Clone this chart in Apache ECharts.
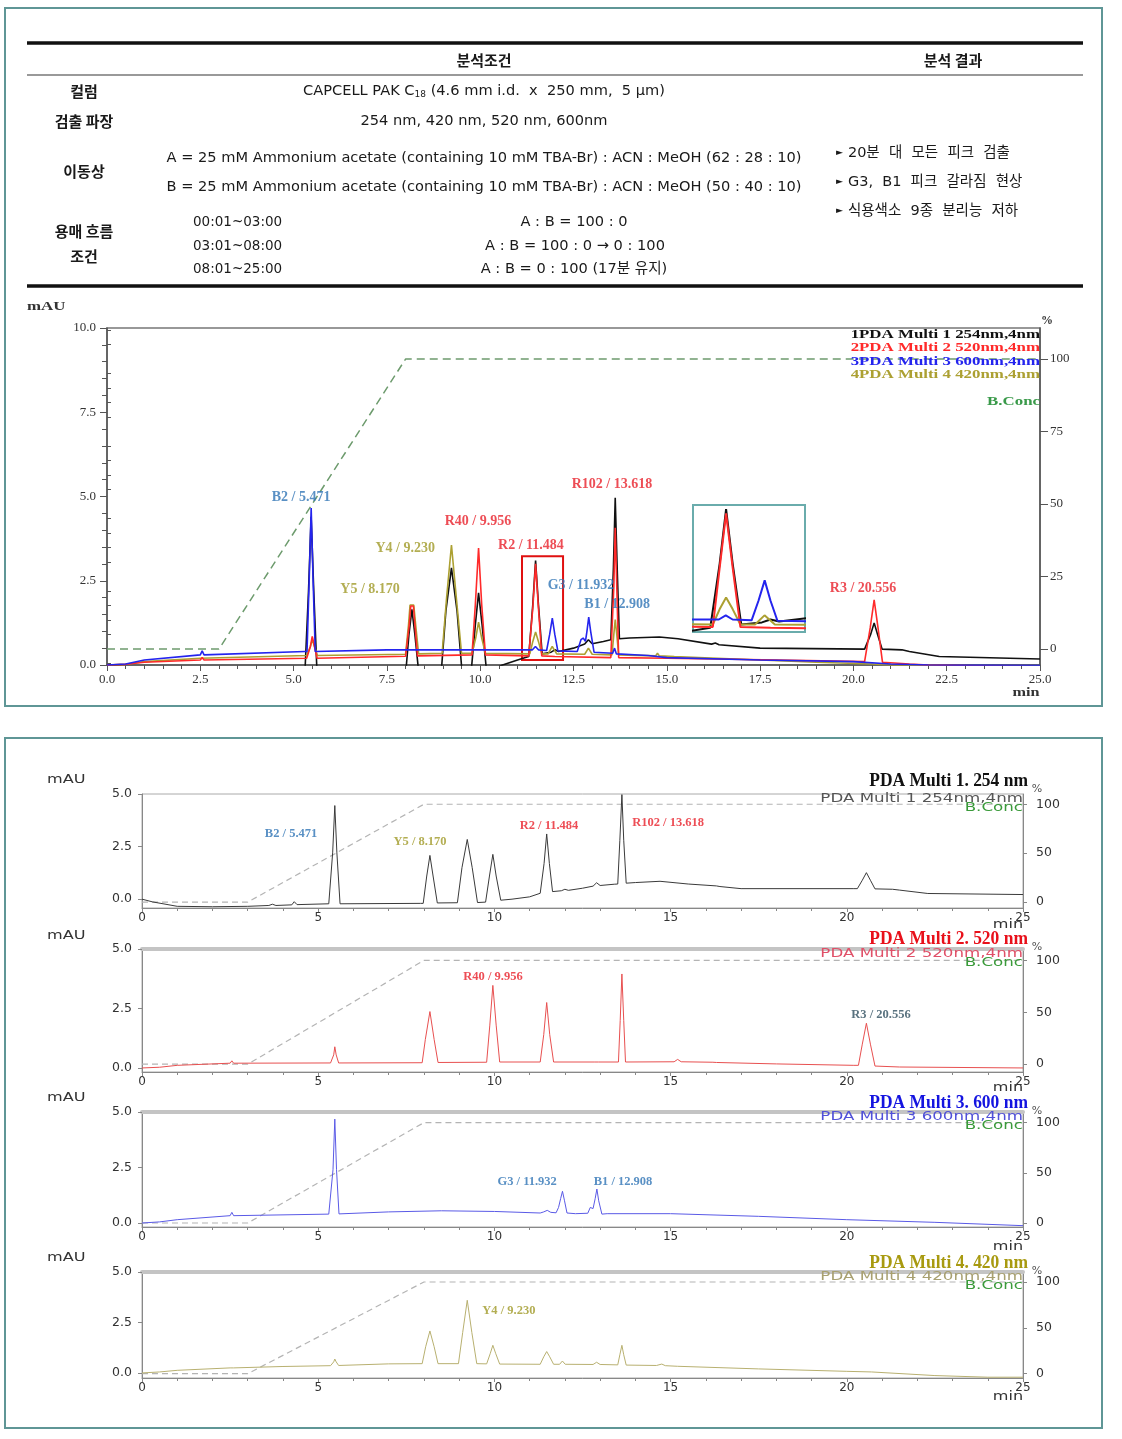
<!DOCTYPE html>
<html><head><meta charset="utf-8">
<script src="https://cdn.jsdelivr.net/npm/echarts@6/dist/echarts.min.js"></script>
<style>html,body{margin:0;padding:0;background:#fff}#c{width:1122px;height:1439px}</style>
</head><body><div id="c"></div>
<script>
// ---------------- DATA ----------------
// Main overlay chromatogram (time in min, absorbance in mAU)
const main254 = [[0,0],[0.4,-0.05],[1.0,-0.25],[2.0,-0.3],[5.3,-0.3],
 [5.33,-0.3],[5.40,2.2],[5.47,4.4],[5.54,2.2],[5.63,-0.3],[7.9,-0.3],
 [8.0,-0.3],[8.09,0.9],[8.17,1.65],[8.25,0.9],[8.36,-0.3],
 [8.95,-0.3],[9.08,1.6],[9.23,2.88],[9.38,1.6],[9.52,-0.3],
 [9.75,-0.3],[9.87,1.2],[9.956,2.14],[10.05,1.2],[10.18,-0.3],
 [10.3,-0.15],[10.6,0.0],[11.0,0.15],[11.3,0.25],
 [11.32,0.27],[11.41,1.8],[11.484,3.1],[11.56,1.8],[11.66,0.33],
 [11.9,0.38],[12.0,0.45],[12.1,0.4],[12.5,0.5],[12.8,0.62],[12.9,0.75],[13.0,0.63],[13.3,0.7],[13.5,0.75],
 [13.53,0.75],[13.57,2.9],[13.618,4.96],[13.67,2.9],[13.73,0.78],
 [14.0,0.8],[14.8,0.83],[15.3,0.78],[16.2,0.62],[16.3,0.65],[16.4,0.6],[17.5,0.5],[20.3,0.47],
 [20.35,0.47],[20.46,0.9],[20.556,1.25],[20.65,0.9],[20.77,0.47],
 [21.3,0.45],[21.5,0.4],[22.3,0.25],[25,0.18]];
const main520 = [[0,0],[0.5,0.02],[1.0,0.08],[2.5,0.15],[2.55,0.22],[2.6,0.15],[5.35,0.2],
 [5.38,0.2],[5.45,0.55],[5.5,0.85],[5.56,0.55],[5.63,0.2],[8.0,0.26],
 [8.03,0.26],[8.1,1.2],[8.14,1.75],[8.21,1.75],[8.25,1.2],[8.32,0.27],
 [9.78,0.3],[9.87,1.8],[9.956,3.47],[10.04,1.8],[10.14,0.3],[11.3,0.27],
 [11.33,0.27],[11.41,1.7],[11.484,3.0],[11.56,1.7],[11.65,0.27],
 [12.0,0.25],[13.5,0.22],
 [13.53,0.22],[13.58,2.3],[13.618,4.07],[13.66,2.3],[13.71,0.22],
 [15,0.2],[18,0.15],[20.3,0.1],
 [20.33,0.1],[20.45,1.1],[20.556,1.93],[20.66,1.1],[20.78,0.08],
 [21.5,0.03],[22,0.0],[25,-0.05]];
const main600 = [[0,0],[0.5,0.03],[1.0,0.15],[2.5,0.3],[2.55,0.42],[2.6,0.3],[5.3,0.4],
 [5.36,0.4],[5.42,2.6],[5.471,4.66],[5.52,2.6],[5.58,0.4],
 [7.5,0.45],[11.3,0.45],[11.4,0.45],[11.48,0.55],[11.56,0.45],
 [11.78,0.43],[11.86,0.9],[11.932,1.39],[12.0,0.9],[12.08,0.42],
 [12.6,0.4],[12.7,0.75],[12.76,0.8],[12.82,0.7],[12.86,1.0],[12.908,1.42],[12.96,1.0],[13.05,0.38],
 [13.55,0.35],[13.6,0.5],[13.65,0.33],[14.5,0.28],[15,0.22],[17.5,0.15],[20,0.1],[21,0.03],[22,0.0],[25,-0.02]];
const main420 = [[0,0],[0.5,0.02],[1.0,0.1],[2.5,0.2],[5.35,0.28],
 [5.38,0.28],[5.45,0.55],[5.5,0.75],[5.56,0.55],[5.64,0.28],
 [8.0,0.32],[8.08,1.2],[8.12,1.78],[8.22,1.78],[8.27,1.2],[8.35,0.33],
 [8.98,0.35],[9.1,2.0],[9.23,3.56],[9.36,2.0],[9.5,0.35],
 [9.78,0.35],[9.88,0.8],[9.956,1.27],[10.04,0.8],[10.14,0.35],
 [11.33,0.33],[11.41,0.7],[11.484,0.98],[11.56,0.7],[11.65,0.33],
 [11.82,0.33],[11.93,0.55],[12.05,0.33],
 [12.8,0.32],[12.9,0.5],[13.0,0.32],
 [13.53,0.3],[13.58,0.9],[13.618,1.35],[13.66,0.9],[13.71,0.3],
 [14.7,0.27],[14.75,0.35],[14.8,0.27],[15.2,0.25],[17.5,0.15],[19,0.08],[20.5,0.03],[21,0.0],[25,-0.05]];
// Gradient (% B)
const bConc = [[0,0],[3,0],[8,100],[25,100]];

// Individual channels (lower panel)
const sub254 = [[0,0],[0.3,-0.13],[1.0,-0.34],[2.0,-0.36],[3.0,-0.34],[3.6,-0.3],[3.7,-0.24],[3.8,-0.3],[4.25,-0.27],[4.32,-0.12],[4.4,-0.26],[5.3,-0.22],
 [5.33,-0.22],[5.41,2.2],[5.471,4.45],[5.53,2.2],[5.62,-0.22],[7.9,-0.2],
 [7.98,-0.2],[8.08,1.1],[8.17,2.08],[8.26,1.1],[8.38,-0.18],
 [8.95,-0.17],[9.08,1.5],[9.23,2.84],[9.37,1.5],[9.52,-0.16],
 [9.75,-0.14],[9.86,1.1],[9.956,2.13],[10.05,1.1],[10.18,-0.05],
 [10.5,0.0],[11.0,0.11],[11.3,0.28],
 [11.33,0.3],[11.41,1.7],[11.484,3.1],[11.56,1.7],[11.65,0.36],
 [11.9,0.4],[12.0,0.47],[12.1,0.42],[12.5,0.52],[12.8,0.62],[12.9,0.78],[13.0,0.65],[13.4,0.71],
 [13.5,0.72],[13.56,2.8],[13.618,4.97],[13.67,2.8],[13.74,0.76],
 [14.0,0.79],[14.7,0.85],[15.5,0.72],[16.3,0.63],[16.4,0.6],[17.0,0.5],[20.2,0.5],
 [20.3,0.5],[20.44,0.9],[20.556,1.26],[20.67,0.9],[20.8,0.49],
 [21.3,0.47],[21.5,0.43],[22.3,0.27],[25,0.22]];
const sub520 = [[0,0],[0.5,0.03],[1.0,0.11],[2.5,0.2],[2.55,0.3],[2.6,0.2],[5.35,0.21],
 [5.38,0.21],[5.44,0.55],[5.471,0.89],[5.51,0.55],[5.58,0.21],
 [7.95,0.22],[8.04,1.2],[8.17,2.37],[8.29,1.2],[8.4,0.23],
 [9.78,0.24],[9.87,1.8],[9.956,3.47],[10.05,1.8],[10.15,0.25],
 [11.3,0.25],[11.4,1.4],[11.484,2.75],[11.57,1.4],[11.68,0.25],
 [12.85,0.25],[12.9,0.29],[12.95,0.25],
 [13.52,0.25],[13.57,2.0],[13.618,3.95],[13.67,2.0],[13.72,0.25],
 [15.1,0.26],[15.2,0.36],[15.3,0.26],[16.2,0.24],[16.25,0.27],[16.3,0.23],[18,0.17],[20.2,0.11],
 [20.33,0.11],[20.44,1.0],[20.556,1.88],[20.67,1.0],[20.8,0.08],
 [21.5,0.04],[25,0.0]];
const sub600 = [[0,0],[0.5,0.05],[1.0,0.15],[2.5,0.33],[2.55,0.48],[2.6,0.33],[5.3,0.4],
 [5.35,0.4],[5.42,2.4],[5.471,4.68],[5.52,2.4],[5.59,0.41],
 [7.0,0.5],[8.5,0.55],[10.0,0.52],[11.3,0.45],[11.4,0.5],[11.5,0.57],[11.6,0.48],
 [11.75,0.46],[11.82,0.7],[11.88,1.1],[11.932,1.43],[11.99,1.0],[12.06,0.45],
 [12.3,0.42],[12.65,0.44],[12.72,0.7],[12.76,0.78],[12.8,0.65],[12.86,1.1],[12.908,1.53],[12.96,1.0],[13.05,0.4],[13.2,0.42],
 [15,0.42],[17.5,0.3],[20,0.15],[22.5,0.03],[25,-0.12]];
const sub420 = [[0,0],[0.5,0.05],[1.0,0.13],[2.5,0.25],[2.55,0.33],[2.6,0.25],[4.0,0.32],[5.35,0.36],
 [5.38,0.36],[5.44,0.55],[5.471,0.69],[5.51,0.55],[5.58,0.37],
 [7.0,0.45],[7.95,0.46],[8.05,1.3],[8.17,2.08],[8.29,1.3],[8.4,0.46],
 [8.98,0.46],[9.1,2.0],[9.23,3.6],[9.36,2.0],[9.5,0.46],
 [9.78,0.45],[9.88,0.95],[9.956,1.37],[10.04,0.95],[10.15,0.44],
 [11.3,0.43],[11.4,0.8],[11.484,1.06],[11.57,0.8],[11.68,0.43],
 [11.85,0.43],[11.93,0.59],[12.01,0.43],
 [12.8,0.42],[12.9,0.53],[13.0,0.42],
 [13.5,0.4],[13.56,0.9],[13.618,1.37],[13.67,0.9],[13.74,0.39],
 [14.6,0.37],[14.75,0.44],[14.85,0.36],[15.2,0.33],[17.5,0.2],[20.0,0.08],[20.7,0.05],[22.5,-0.13],[24.0,-0.21],[25,-0.21]];

// Tick labels
const mainYTicks = [0, 2.5, 5, 7.5, 10];
const mainPctTicks = [0, 25, 50, 75, 100];
const mainPctMinor = [-5,5,10,15,20,30,35,40,45,55,60,65,70,80,85,90,95,105,110];
const subYTicks = [0, 2.5, 5];
const subPctTicks = [0, 50, 100];

// Channel names
const channelNames = ['1PDA Multi 1 254nm,4nm','2PDA Multi 2 520nm,4nm','3PDA Multi 3 600nm,4nm','4PDA Multi 4 420nm,4nm'];
const subTitles = ['PDA Multi 1. 254 nm','PDA Multi 2. 520 nm','PDA Multi 3. 600 nm','PDA Multi 4. 420 nm'];
const subLegend = ['PDA Multi 1 254nm,4nm','PDA Multi 2 520nm,4nm','PDA Multi 3 600nm,4nm','PDA Multi 4 420nm,4nm'];

// Peak annotations (text, anchor time, anchor mAU)
const mainPeakText = ['B2 / 5.471','Y5 / 8.170','Y4 / 9.230','R40 / 9.956','R2 / 11.484','G3 / 11.932','B1 / 12.908','R102 / 13.618','R3 / 20.556'];
const mainPeakAt = [[5.20,4.96],[7.05,2.23],[7.99,3.47],[9.94,4.27],[11.36,3.56],[12.70,2.37],[13.67,1.81],[13.53,5.37],[20.26,2.28]];
const subPeakText = [['B2 / 5.471','Y5 / 8.170','R2 / 11.484','R102 / 13.618'],['R40 / 9.956','R3 / 20.556'],['G3 / 11.932','B1 / 12.908'],['Y4 / 9.230']];
const subPeakAt = [[[4.23,3.13],[7.89,2.75],[11.55,3.51],[14.93,3.65]],[[9.96,3.83],[20.97,2.22]],[[10.93,1.86],[13.65,1.86]],[[10.41,3.08]]];

// Table text
const tableHead = ['분석조건','분석 결과'];
const rowLabels = ['컬럼','검출 파장','이동상','용매 흐름','조건'];
const columnText = 'CAPCELL PAK C{s|18} (4.6 mm i.d.  x  250 mm,  5 μm)';
const waveText = '254 nm, 420 nm, 520 nm, 600nm';
const phaseA = 'A = 25 mM Ammonium acetate (containing 10 mM TBA-Br) : ACN : MeOH (62 : 28 : 10)';
const phaseB = 'B = 25 mM Ammonium acetate (containing 10 mM TBA-Br) : ACN : MeOH (50 : 40 : 10)';
const flowTimes = ['00:01~03:00','03:01~08:00','08:01~25:00'];
const flowRatios = ['A : B = 100 : 0','A : B = 100 : 0 → 0 : 100','A : B = 0 : 100 (17분 유지)'];
const results = ['20분  대  모든  피크  검출','G3,  B1  피크  갈라짐  현상','식용색소  9종  분리능  저하'];

// ---------------- STYLE ----------------
const LB='#2f74b5', LR='#e8202a', LO='#a09a28';
const mainPeakColor = [LB,LO,LO,LR,LR,LB,LB,LR,LR];
const subPeakColor = [[LB,LO,LR,LR],[LR,'#2f4f5f'],[LB,LB],[LO]];
const mainColors = ['#111111','#ff2a2a','#2424ee','#aca032'];
const subColors = ['#3a3a3a','#e85050','#5a5ae6','#b8b070'];
const subTitleColors = ['#111','#e8101a','#1414e0','#a89a10'];
const subLegColors = ['#555','#e05068','#5050d8','#a8a070'];

const SERIF = '"Liberation Serif","Times New Roman",serif';
const SANS = '"DejaVu Sans",sans-serif';
const KR = '"Noto Sans CJK KR","Noto Sans",sans-serif';
const MIX = '"DejaVu Sans","Noto Sans CJK KR",sans-serif';

const chart = echarts.init(document.getElementById('c'), null, {width:1122, height:1439});

const subGeom = [
 {top:794, h:114, ymin:-0.42, pmin:-6, pmax:110.5, thick:false},
 {top:949, h:123, ymin:-0.17, pmin:-7.5, pmax:111, thick:true},
 {top:1112, h:115, ymin:-0.18, pmin:-4, pmax:110.6, thick:true},
 {top:1272, h:106, ymin:-0.25, pmin:-4.7, pmax:110.9, thick:true}
];
const subData = [sub254, sub520, sub600, sub420];

const grid = [
 {left:107, top:328, width:933, height:337, show:true, borderColor:'#777', borderWidth:1.5},
 {left:693, top:505, width:112, height:127, show:true, borderColor:'#6aacac', borderWidth:2, backgroundColor:'#fff'}
];
subGeom.forEach(g=>grid.push({left:142, top:g.top, width:881, height:g.h, show:true, borderColor:'#aaa', borderWidth:1}));

const xAxis = [
 {gridIndex:0, type:'value', min:0, max:25, interval:2.5, splitLine:{show:false},
  axisLine:{onZero:false, lineStyle:{color:'#555', width:1.5}},
  axisTick:{length:6, lineStyle:{color:'#555'}},
  minorTick:{show:true, splitNumber:5, length:4, lineStyle:{color:'#555'}},
  axisLabel:{formatter:v=>v.toFixed(1), fontFamily:SERIF, fontSize:13, color:'#333', margin:8}},
 {gridIndex:1, type:'value', min:11.1, max:12.4, show:false}
];
const yAxis = [
 {gridIndex:0, type:'value', min:0, max:10, interval:2.5, splitLine:{show:false},
  axisLine:{show:true, onZero:false, lineStyle:{color:'#555', width:1.5}},
  axisTick:{show:true, length:7, lineStyle:{color:'#555'}},
  minorTick:{show:true, splitNumber:5, length:5, lineStyle:{color:'#555'}},
  axisLabel:{formatter:v=>v.toFixed(1), fontFamily:SERIF, fontSize:13, color:'#333', margin:11}},
 {gridIndex:0, type:'value', position:'right', min:-5.5, max:110.7, splitLine:{show:false},
  axisLine:{show:true, onZero:false, lineStyle:{color:'#555', width:1.5}},
  axisTick:{show:true, length:8, customValues:mainPctTicks, lineStyle:{color:'#555'}},
  axisLabel:{customValues:mainPctTicks, fontFamily:SERIF, fontSize:13, color:'#333', margin:10}},
 {gridIndex:0, type:'value', position:'right', min:-5.5, max:110.7, splitLine:{show:false},
  axisLine:{show:false}, axisLabel:{show:false},
  axisTick:{show:true, length:4, customValues:mainPctMinor, lineStyle:{color:'#555'}}},
 {gridIndex:1, type:'value', min:0.15, max:3.2, show:false}
];
const series = [];
// Main traces
const mainData = [main254, main420, main520, main600];
const mainOrder = [0,3,1,2];
mainData.forEach((d,i)=>{
  const ci = mainOrder[i];
  const s = {type:'line', xAxisIndex:0, yAxisIndex:0, data:d, symbol:'none', silent:true,
    lineStyle:{color:mainColors[ci], width:1.6}, z:3+i};
  if (ci===1) {
    s.markArea = {silent:true, itemStyle:{color:'rgba(0,0,0,0)', borderColor:'#e01010', borderWidth:2},
      data:[[{coord:[11.12,3.23]},{coord:[12.22,0.15]}]]};
  }
  series.push(s);
  series.push({type:'line', xAxisIndex:1, yAxisIndex:3, data:d, symbol:'none', silent:true,
    lineStyle:{color:mainColors[ci], width:2}, z:10+i});
});
series.push({type:'line', xAxisIndex:0, yAxisIndex:1, data:bConc, symbol:'none', silent:true,
  lineStyle:{color:'#6d9b6d', width:1.5, type:[8,5]}, z:2});
series.push({type:'scatter', xAxisIndex:0, yAxisIndex:0, symbolSize:0, silent:true, z:20,
  data: mainPeakText.map((t,i)=>({name:t, value:mainPeakAt[i], label:{color:mainPeakColor[i]}})),
  label:{show:true, position:'inside', formatter:p=>p.name, fontFamily:SERIF, fontWeight:'bold', fontSize:14}});

// Sub plots
subGeom.forEach((g,k)=>{
  const gi = 2+k;
  xAxis.push({gridIndex:gi, type:'value', min:0, max:25, interval:5, splitLine:{show:false},
    axisLine:{onZero:false, lineStyle:{color:'#888', width:1}},
    axisTick:{length:4, lineStyle:{color:'#888'}},
    minorTick:{show:true, splitNumber:5, length:3, lineStyle:{color:'#888'}},
    axisLabel:{fontFamily:SANS, fontSize:12, color:'#333', margin:4}});
  if (g.thick) {
    xAxis.push({gridIndex:gi, type:'value', position:'top', min:0, max:25, splitLine:{show:false},
      axisLine:{show:true, onZero:false, lineStyle:{color:'#c4c4c4', width:4}}, axisTick:{show:false}, axisLabel:{show:false}});
  }
  const xi = xAxis.length - (g.thick?2:1);
  const yl = yAxis.length;
  yAxis.push({gridIndex:gi, type:'value', min:g.ymin, max:5, splitLine:{show:false},
    axisLine:{show:true, onZero:false, lineStyle:{color:'#888'}},
    axisTick:{show:true, length:4, customValues:subYTicks, lineStyle:{color:'#888'}},
    axisLabel:{customValues:subYTicks, formatter:v=>v.toFixed(1), fontFamily:SANS, fontSize:12.5, color:'#333', margin:10}});
  yAxis.push({gridIndex:gi, type:'value', position:'right', min:g.pmin, max:g.pmax, splitLine:{show:false},
    axisLine:{show:true, onZero:false, lineStyle:{color:'#888'}},
    axisTick:{show:true, length:4, customValues:subPctTicks, lineStyle:{color:'#888'}},
    axisLabel:{customValues:subPctTicks, fontFamily:SANS, fontSize:12.5, color:'#333', margin:13}});
  series.push({type:'line', xAxisIndex:xi, yAxisIndex:yl+1, data:bConc, symbol:'none', silent:true,
    lineStyle:{color:'#b4b4b4', width:1.2, type:[6,4]}, z:2});
  series.push({type:'line', xAxisIndex:xi, yAxisIndex:yl, data:subData[k], symbol:'none', silent:true,
    lineStyle:{color:subColors[k], width:1}, z:3});
  series.push({type:'scatter', xAxisIndex:xi, yAxisIndex:yl, symbolSize:0, silent:true, z:20,
    data: subPeakText[k].map((t,i)=>({name:t, value:subPeakAt[k][i], label:{color:subPeakColor[k][i]}})),
    label:{show:true, position:'inside', formatter:p=>p.name, fontFamily:SERIF, fontWeight:'bold', fontSize:12.5}});
});

// ---------------- GRAPHIC (table, frames, texts) ----------------
function T(x,y,text,font,fill,align,extra,elem){
  return Object.assign({type:'text', x:x, y:y, silent:true, z:50,
    style:Object.assign({text:text, font:font, fill:fill||'#222', align:align||'center', verticalAlign:'middle'}, extra||{})}, elem||{});
}
function L(x1,y1,x2,y2,color,w){
  return {type:'line', silent:true, z:40, shape:{x1:x1,y1:y1,x2:x2,y2:y2}, style:{stroke:color, lineWidth:w}};
}
const fH = 'bold 15px '+KR;
const fC = '14.6px '+MIX;
const TX = '#1a1a1a';
const bullet = {rich:{b:{fontSize:9, fontFamily:'"DejaVu Sans"', padding:[0,5,0,0]}}};
const wide = {scaleX:1.25};
const g = [
  {type:'rect', silent:true, z:1, shape:{x:5,y:8,width:1097,height:698}, style:{fill:'none', stroke:'#5f9696', lineWidth:2}},
  {type:'rect', silent:true, z:1, shape:{x:5,y:738,width:1097,height:690}, style:{fill:'none', stroke:'#5f9696', lineWidth:2}},
  L(27,43,1083,43,'#111',3.5),
  L(27,75,1083,75,'#999',2),
  L(27,286,1083,286,'#111',3.5),
  T(484,60,tableHead[0],fH,TX),
  T(953,60,tableHead[1],fH,TX),
  T(84,91,rowLabels[0],fH,TX),
  T(484,91,columnText,fC,TX,'center',{rich:{s:{fontSize:9, fontFamily:'"DejaVu Sans"', padding:[7,0,0,0]}}}),
  T(84,121,rowLabels[1],fH,TX),
  T(484,121,waveText,fC,TX),
  T(84,171,rowLabels[2],fH,TX),
  T(484,158,phaseA,fC,TX),
  T(484,187,phaseB,fC,TX),
  T(84,231,rowLabels[3],fH,TX),
  T(84,256,rowLabels[4],fH,TX),
  T(193,222,flowTimes[0],'13.5px '+MIX,TX,'left'),
  T(193,246,flowTimes[1],'13.5px '+MIX,TX,'left'),
  T(193,269,flowTimes[2],'13.5px '+MIX,TX,'left'),
  T(574,222,flowRatios[0],fC,TX),
  T(575,246,flowRatios[1],fC,TX),
  T(574,269,flowRatios[2],fC,TX),
  T(836,153,'{b|►}'+results[0],'14.5px '+MIX,TX,'left',bullet),
  T(836,182,'{b|►}'+results[1],'14.5px '+MIX,TX,'left',bullet),
  T(836,211,'{b|►}'+results[2],'14.5px '+MIX,TX,'left',bullet),
  // main chart texts
  T(27,307,'mAU','bold 13px '+SERIF,'#333','left',null,{scaleX:1.3}),
  T(1047,321,'%','bold 12px '+SERIF,'#333','center'),
  T(1026,693,'min','bold 12.5px '+SERIF,'#333','center',null,{scaleX:1.3}),
  T(1040,335,channelNames[0],'bold 13.5px '+SERIF,mainColors[0],'right',null,wide),
  T(1040,348,channelNames[1],'bold 13.5px '+SERIF,mainColors[1],'right',null,wide),
  T(1040,362,channelNames[2],'bold 13.5px '+SERIF,mainColors[2],'right',null,wide),
  T(1040,375,channelNames[3],'bold 13.5px '+SERIF,mainColors[3],'right',null,wide),
  T(1040,402,'B.Conc','bold 13.5px '+SERIF,'#3a9a4a','right',null,wide)
];
const subTitleY = [781, 939, 1103, 1263];
const subMauY = [780, 936, 1098, 1258];
const subMinY = [925, 1088, 1247, 1397];
subGeom.forEach((s,k)=>{
  g.push(T(1028,subTitleY[k],subTitles[k],'bold 19px '+SERIF,subTitleColors[k],'right',null,{scaleX:0.92}));
  g.push(T(1037,subTitleY[k]+8,'%','11px '+SANS,'#555','center'));
  g.push(T(1023,s.top+5,subLegend[k],'11.5px '+SANS,subLegColors[k],'right',null,{scaleX:1.45}));
  g.push(T(1023,s.top+14,'B.Conc','11.5px '+SANS,'#3a9a3a','right',null,{scaleX:1.45}));
  g.push(T(47,subMauY[k],'mAU','11.5px '+SANS,'#333','left',null,{scaleX:1.4}));
  g.push(T(1008,subMinY[k],'min','11.5px '+SANS,'#333','center',null,{scaleX:1.4}));
});

chart.setOption({
  animation:false,
  backgroundColor:'#fff',
  grid:grid, xAxis:xAxis, yAxis:yAxis, series:series, graphic:g
});
</script></body></html>
